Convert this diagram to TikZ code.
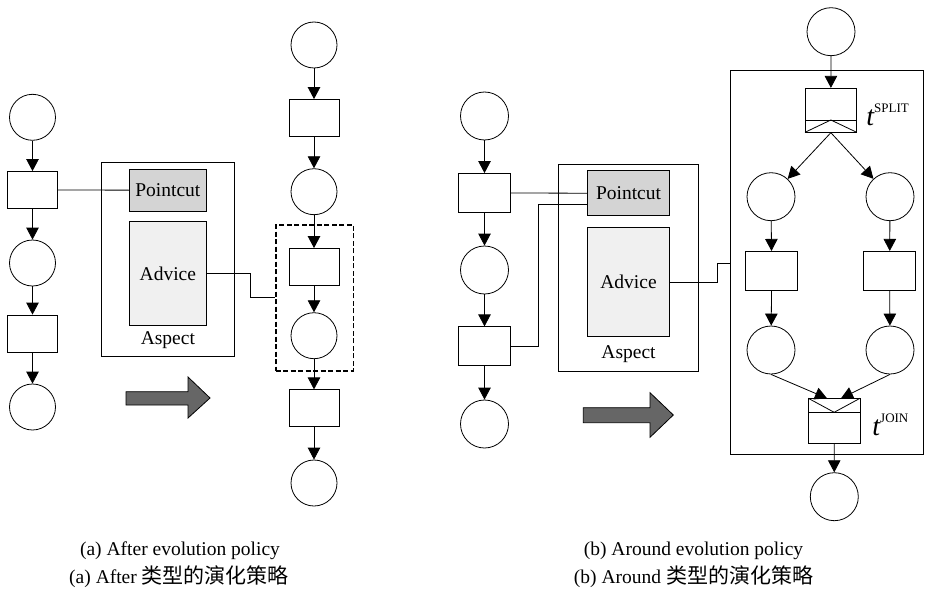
\documentclass[tikz,border=0pt]{standalone}
\usepackage{fontspec}
\setmainfont{Liberation Serif}
\newfontfamily\cjk{Noto Sans CJK SC}
\usetikzlibrary{arrows.meta}
\begin{document}
\begin{tikzpicture}[x=1pt,y=-1pt,line width=0.8pt,
  pla/.style={draw,circle,inner sep=0pt,minimum size=46pt},
  plb/.style={draw,circle,inner sep=0pt,minimum size=48pt},
  tra/.style={draw,rectangle,inner sep=0pt,minimum width=50pt,minimum height=37pt},
  trb/.style={draw,rectangle,inner sep=0pt,minimum width=52pt,minimum height=39pt},
  box/.style={draw,rectangle,inner sep=0pt},
  txt/.style={font=\fontsize{19.5}{22}\selectfont},
  captxt/.style={font=\fontsize{19.5}{22}\selectfont,anchor=base},
  arr/.style={-{Triangle[length=12pt,width=12.5pt]}},
  bigarrow/.style={draw=black,line width=0.8pt,fill=black!60}]
\useasboundingbox (0,0) rectangle (925,591);

% ---------------- (a) ----------------
\node[pla] (a1) at (32.5,117.3) {};
\node[tra] (a2) at (32.5,190) {};
\node[pla] (a3) at (32.5,263) {};
\node[tra] (a4) at (32.5,333.5) {};
\node[pla] (a5) at (32.5,407) {};
\draw[arr] (a1) -- (a2);
\draw[arr] (a2) -- (a3);
\draw[arr] (a3) -- (a4);
\draw[arr] (a4) -- (a5);

\node[box,minimum width=132.3pt,minimum height=194pt] (aspa) at (167.85,259.7) {};
\node[box,fill=black!17,minimum width=76.3pt,minimum height=41.7pt,txt] (pca) at (167.85,190.15) {Pointcut};
\node[box,fill=black!6,minimum width=76.3pt,minimum height=103.3pt,txt] (adva) at (167.85,273.35) {Advice};
\node[txt,anchor=base] (aspla) at (167.85,344.3) {Aspect};
\draw (a2.east) -- (pca.west);

\node[pla] (b1) at (314,45) {};
\node[tra] (b2) at (314,118) {};
\node[pla] (b3) at (314,191.7) {};
\node[tra] (b4) at (314,267) {};
\node[pla] (b5) at (314,335.7) {};
\node[tra] (b6) at (314,408.3) {};
\node[pla] (b7) at (314,483) {};
\node[box,line width=1.6pt,dash pattern=on 5pt off 2.5pt,minimum width=77.6pt,minimum height=145.7pt] (dsh) at (314.5,297.85) {};
\draw[arr] (b1) -- (b2);
\draw[arr] (b2) -- (b3);
\draw[arr] (b3) -- (b4);
\draw[arr] (b4) -- (b5);
\draw[arr] (b5) -- (b6);
\draw[arr] (b6) -- (b7);
\draw (adva.east) -- ++(44,0) |- (dsh.west);

\path[bigarrow] (126,391.7) -- (188,391.7) -- (188,377) -- (210,398) -- (188,418) -- (188,405) -- (126,405) -- cycle;

% ---------------- (b) ----------------
\node[plb] (c1) at (484.5,116) {};
\node[trb] (c2) at (484.5,193) {};
\node[plb] (c3) at (484.5,270) {};
\node[trb] (c4) at (484.5,346.3) {};
\node[plb] (c5) at (484.5,424) {};
\draw[arr] (c1) -- (c2);
\draw[arr] (c2) -- (c3);
\draw[arr] (c3) -- (c4);
\draw[arr] (c4) -- (c5);

\node[box,minimum width=140.4pt,minimum height=207pt] (aspb) at (628.5,267.5) {};
\node[box,fill=black!17,minimum width=81.6pt,minimum height=45pt,txt] (pcb) at (628.5,193.2) {Pointcut};
\node[box,fill=black!6,minimum width=81.6pt,minimum height=109.4pt,txt] (advb) at (628.5,282) {Advice};
\node[txt,anchor=base] (asplb) at (628.5,358.5) {Aspect};
\coordinate (pin) at (587.7,204.3);
\draw (c2.east) -- (pcb.west);
\draw (c4.east) -- ++(27,0) |- (pin);

\node[box,minimum width=192.3pt,minimum height=383.6pt] (big) at (826.85,262.5) {};
\coordinate (bin) at (730.7,263.3);
\draw (advb.east) -- ++(47.4,0) |- (bin);

\node[plb] (d1) at (831,31.7) {};
\node[box,minimum width=51.7pt,minimum height=44pt] (split) at (830.85,110.3) {};
\draw (805,120) -- (856.7,120);
\draw (805,132.3) -- (830.85,120) -- (856.7,132.3);
\node[anchor=base west,inner sep=0pt] (tsplit) at (866,125) {\fontsize{28}{28}\selectfont\itshape t\upshape\raisebox{13pt}{\fontsize{13}{13}\selectfont SPLIT}};
\draw[arr] (d1) -- (split);

\node[plb] (e1) at (771,196.7) {};
\node[plb] (f1) at (890,196.7) {};
\draw[arr] (split.south) -- (e1);
\draw[arr] (split.south) -- (f1);
\node[trb] (e2) at (771.7,270.85) {};
\node[trb] (f2) at (889.65,270.85) {};
\draw[arr] (e1) -- (e2);
\draw[arr] (f1) -- (f2);
\node[plb] (e3) at (771,350) {};
\node[plb] (f3) at (890,350) {};
\draw[arr] (e2) -- (e3);
\draw[arr] (f2) -- (f3);

\node[box,minimum width=51.7pt,minimum height=45pt] (join) at (834.15,420.8) {};
\draw (808.3,412.3) -- (860,412.3);
\draw (808.3,398.3) -- (834.15,412.3) -- (860,398.3);
\coordinate (j1) at (827,398.3);
\coordinate (j2) at (841,398.3);
\draw[arr] (e3.south) -- (j1);
\draw[arr] (f3.south) -- (j2);
\node[anchor=base west,inner sep=0pt] (tjoin) at (872,435) {\fontsize{28}{28}\selectfont\itshape t\upshape\raisebox{13pt}{\fontsize{13}{13}\selectfont JOIN}};
\node[plb] (g1) at (834.3,496.7) {};
\draw[arr] (join) -- (g1);

\path[bigarrow] (583.3,407.7) -- (650,407.7) -- (650,392.7) -- (673.3,415) -- (650,437.3) -- (650,422.7) -- (583.3,422.7) -- cycle;

% ---------------- captions ----------------
\node[captxt] (capa1) at (180,555) {(a) After evolution policy};
\node[captxt] (capa2) at (179,583) {(a) After {\cjk\fontsize{21}{22}\selectfont 类型的演化策略}};
\node[captxt] (capb1) at (693.5,555) {(b) Around evolution policy};
\node[captxt] (capb2) at (693.5,583) {(b) Around {\cjk\fontsize{21}{22}\selectfont 类型的演化策略}};
\end{tikzpicture}
\end{document}
